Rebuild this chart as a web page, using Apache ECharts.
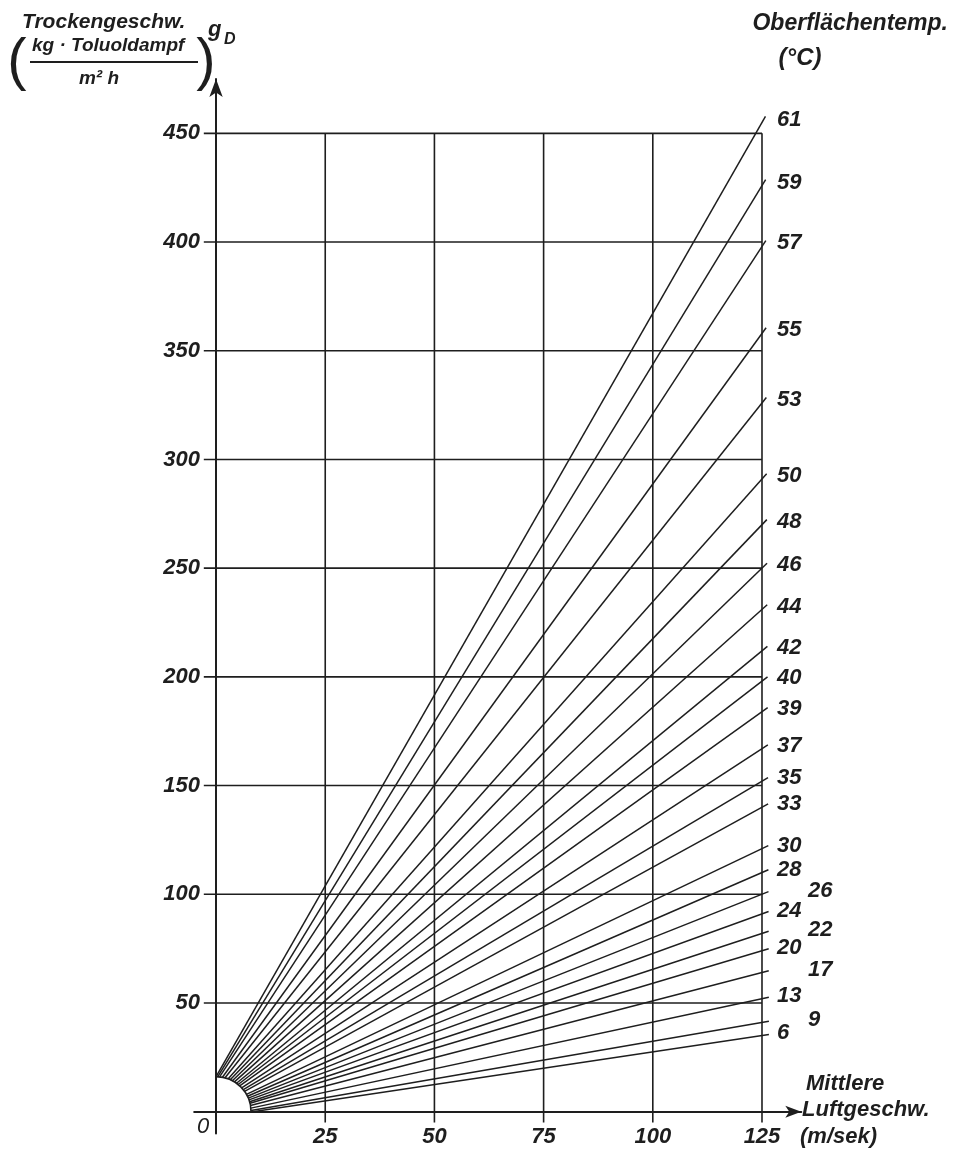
<!DOCTYPE html>
<html><head><meta charset="utf-8">
<script src="https://cdn.jsdelivr.net/npm/echarts@6/dist/echarts.min.js"></script>
<style>html,body{margin:0;padding:0;background:#fff}#c{width:954px;height:1152px}</style>
</head><body><div id="c"></div>
<script>
// ---- data ----
const temps       = [61, 59, 57, 55, 53, 50, 48, 46, 44, 42, 40, 39, 37, 35, 33, 30, 28, 26, 24, 22, 20, 17, 13, 9, 6];
const ratesAt125  = [455, 426, 398, 358, 326, 291, 270, 250, 231, 212, 198, 184, 167, 152, 140, 121, 110, 100, 91, 82, 74, 64, 52, 41, 35];
const speedEnd    = 125;
const speedTicks  = [25, 50, 75, 100, 125];
const rateTicks   = [50, 100, 150, 200, 250, 300, 350, 400, 450];
const fanPole     = [-5.8, -4.3];       // construction point the fan lines aim from
const staggeredLabels = [26, 22, 17, 9]; // labels set further right

// ---- styles ----
const INK = '#1e1e1e';
const FONT = '"Liberation Sans", Arial, sans-serif';
const arcRadiusPx = 35;

const X_MIN = -5, X_MAX = 134, Y_MIN = -10, Y_MAX = 475;
const GRID = {left: 194.2, top: 79, width: 607.1, height: 1054.4};
const pxPerX = GRID.width / (X_MAX - X_MIN);
const pxPerY = GRID.height / (Y_MAX - Y_MIN);

const chart = echarts.init(document.getElementById('c'), null, {renderer: 'canvas'});

const gridSeries = [];
const lastRate = rateTicks[rateTicks.length - 1];
const lastSpeed = speedTicks[speedTicks.length - 1];
function seg(data) {
  return {type: 'line', data: data, symbol: 'none', silent: true, animation: false, z: 1,
          lineStyle: {color: INK, width: 1.6}, clip: false};
}
speedTicks.forEach(v => gridSeries.push(seg([[v, -5], [v, lastRate]])));
rateTicks.forEach(v => gridSeries.push(seg([[-2.8, v], [lastSpeed, v]])));

const fanData = temps.map((t, i) => [speedEnd, ratesAt125[i], t]);

function hitCircle(P, E, C, R) {
  const dx = E[0] - P[0], dy = E[1] - P[1];
  const L = Math.hypot(dx, dy), ux = dx / L, uy = dy / L;
  const fx = P[0] - C[0], fy = P[1] - C[1];
  const b = fx * ux + fy * uy, c = fx * fx + fy * fy - R * R;
  const t = -b + Math.sqrt(Math.max(0, b * b - c));
  return [P[0] + ux * t, P[1] + uy * t];
}

const fanSeries = {
  type: 'custom', coordinateSystem: 'cartesian2d', silent: true, animation: false, z: 3, clip: false,
  encode: {x: 0, y: 1},
  data: fanData,
  renderItem: function (params, api) {
    const E = api.coord([api.value(0), api.value(1)]);
    const T = api.value(2);
    const C = api.coord([0, 0]);
    const P = api.coord(fanPole);
    const S = hitCircle(P, E, C, arcRadiusPx);
    const dx = E[0] - S[0], dy = E[1] - S[1], L = Math.hypot(dx, dy);
    const ext = 7;
    const X = [E[0] + dx / L * ext, E[1] + dy / L * ext];
    const shift = staggeredLabels.indexOf(T) >= 0 ? 46 : 15;
    return {type: 'group', children: [
      {type: 'line', shape: {x1: S[0], y1: S[1], x2: X[0], y2: X[1]},
       style: {stroke: INK, lineWidth: 1.5}},
      {type: 'text', x: E[0] + shift, y: E[1] - 3,
       style: {text: String(T), font: 'italic bold 22px ' + FONT, fill: INK,
               align: 'left', verticalAlign: 'middle', textAlign: 'left', textVerticalAlign: 'middle'}}
    ]};
  }
};

const arcSeries = {
  type: 'custom', coordinateSystem: 'cartesian2d', silent: true, animation: false, z: 2, clip: false,
  data: [[0, 0]],
  renderItem: function (params, api) {
    const C = api.coord([api.value(0), api.value(1)]);
    return {type: 'arc', shape: {cx: C[0], cy: C[1], r: arcRadiusPx, startAngle: -Math.PI / 2, endAngle: 0, clockwise: true},
            style: {stroke: INK, lineWidth: 1.6, fill: 'none'}};
  }
};

const labelStyle = {color: INK, fontFamily: FONT, fontStyle: 'italic', fontWeight: 'bold', fontSize: 22};

const tstyle = (text, x, y, size, align, weight, fstyle) => ({
  type: 'text', x: x, y: y, silent: true,
  style: {text: text, font: (fstyle || 'italic') + ' ' + (weight || 'bold') + ' ' + size + 'px ' + FONT, fill: INK,
          align: align || 'left', verticalAlign: 'middle', textAlign: align || 'left', textVerticalAlign: 'middle'}
});

const option = {
  backgroundColor: '#ffffff',
  animation: false,
  grid: Object.assign({containLabel: false, outerBoundsMode: 'none'}, GRID),
  xAxis: {
    type: 'value', min: X_MIN, max: X_MAX, interval: 5,
    offset: -(0 - Y_MIN) * pxPerY,
    axisLine: {show: true, onZero: false, symbol: ['none', 'arrow'], symbolSize: [9, 16],
               lineStyle: {color: INK, width: 2}},
    axisTick: {show: false}, splitLine: {show: false},
    axisLabel: Object.assign({}, labelStyle, {
      margin: 14, lineHeight: 22, showMinLabel: true, showMaxLabel: true,
      formatter: v => (v === 0 ? '{z|0}' : (v > 0 && v <= speedEnd && v % 25 === 0 ? String(v) : '')),
      rich: {z: {fontFamily: FONT, fontStyle: 'italic', fontWeight: 'normal', fontSize: 22, color: INK,
                 padding: [0, 26, 0, 0], lineHeight: 2}}
    })
  },
  yAxis: {
    type: 'value', min: Y_MIN, max: Y_MAX, interval: 10,
    offset: -(0 - X_MIN) * pxPerX,
    axisLine: {show: true, onZero: false, symbol: ['none', 'arrow'], symbolSize: [10, 18],
               lineStyle: {color: INK, width: 2}},
    axisTick: {show: false}, splitLine: {show: false},
    axisLabel: Object.assign({}, labelStyle, {
      margin: 16,
      formatter: v => (v > 0 && v <= lastRate && v % 50 === 0 ? String(v) : '')
    })
  },
  graphic: [
    tstyle('Trockengeschw.', 22, 22, 21),
    tstyle('(', 17, 63, 58, 'center', 'normal', 'normal'),
    tstyle(')', 206, 63, 58, 'center', 'normal', 'normal'),
    tstyle('kg · Toluoldampf', 32, 46, 19),
    {type: 'line', silent: true, shape: {x1: 30, y1: 62, x2: 198, y2: 62}, style: {stroke: INK, lineWidth: 2}},
    tstyle('m² h', 99, 79, 19, 'center'),
    tstyle('g', 208, 30, 22),
    tstyle('D', 224, 40, 16),
    tstyle('Oberflächentemp.', 948, 24, 23, 'right'),
    tstyle('(°C)', 800, 58, 24, 'center'),
    tstyle('Mittlere', 806, 1084, 22),
    tstyle('Luftgeschw.', 802, 1110, 22),
    tstyle('(m/sek)', 800, 1137, 22)
  ],
  series: gridSeries.concat([arcSeries, fanSeries])
};
chart.setOption(option);
</script>
</body></html>
